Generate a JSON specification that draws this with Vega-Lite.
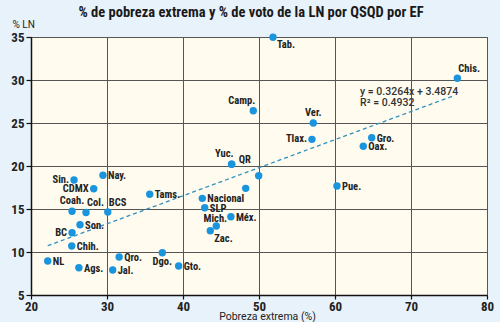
{
  "$schema": "https://vega.github.io/schema/vega-lite/v6.json",
  "width": 456,
  "height": 258,
  "autosize": {"type": "none"},
  "padding": {"left": 31, "top": 37, "right": 13, "bottom": 27},
  "background": "#e8f2fb",
  "title": {
    "text": "% de pobreza extrema y % de voto de la LN por QSQD por EF",
    "font": "Roboto Condensed, Roboto, sans-serif",
    "fontSize": 14.5,
    "fontWeight": "bold",
    "color": "#1a1a1a",
    "anchor": "middle",
    "dx": -8,
    "dy": 3,
    "offset": 2
  },
  "datasets": {
    "pts": [
      {"e": "NL", "x": 22.2, "y": 8.95},
      {"e": "Ags.", "x": 26.3, "y": 8.17},
      {"e": "Jal.", "x": 30.75, "y": 7.9},
      {"e": "Qro.", "x": 31.6, "y": 9.42},
      {"e": "Chih.", "x": 25.36, "y": 10.7},
      {"e": "BC", "x": 25.4, "y": 12.24},
      {"e": "Son.", "x": 26.45, "y": 13.17},
      {"e": "Coah.", "x": 25.4, "y": 14.73},
      {"e": "Col.", "x": 27.24, "y": 14.6},
      {"e": "BCS", "x": 30.1, "y": 14.65},
      {"e": "CDMX", "x": 28.25, "y": 17.36},
      {"e": "Sin.", "x": 25.66, "y": 18.37},
      {"e": "Nay.", "x": 29.47, "y": 18.92},
      {"e": "Tams.", "x": 35.62, "y": 16.71},
      {"e": "Dgo.", "x": 37.28, "y": 9.92},
      {"e": "Gto.", "x": 39.43, "y": 8.37},
      {"e": "Nacional", "x": 42.54, "y": 16.24},
      {"e": "SLP", "x": 42.86, "y": 15.15},
      {"e": "Méx.", "x": 46.3, "y": 14.1},
      {"e": "Mich.", "x": 44.38, "y": 13.02},
      {"e": "Zac.", "x": 43.59, "y": 12.48},
      {"e": "Hgo.", "x": 48.25, "y": 17.4},
      {"e": "Mor.", "x": 49.96, "y": 18.87},
      {"e": "Yuc.", "x": 46.4, "y": 20.2},
      {"e": "QR", "x": 46.4, "y": 20.2},
      {"e": "Tlax.", "x": 56.97, "y": 23.1},
      {"e": "Tab.", "x": 51.84, "y": 34.97},
      {"e": "Chis.", "x": 76.1, "y": 30.2},
      {"e": "Camp.", "x": 49.25, "y": 26.43},
      {"e": "Ver.", "x": 57.14, "y": 25.0},
      {"e": "Gro.", "x": 64.83, "y": 23.29},
      {"e": "Oax.", "x": 63.72, "y": 22.29},
      {"e": "Pue.", "x": 60.26, "y": 17.67}
    ]
  },
  "config": {
    "view": {"fill": "#fffcef", "stroke": "#555555", "strokeWidth": 1},
    "axis": {
      "gridColor": "#555555",
      "gridWidth": 1,
      "gridOpacity": 1,
      "domainColor": "#111111",
      "domainWidth": 1.5,
      "tickColor": "#111111",
      "tickWidth": 1.2,
      "labelFont": "Roboto Condensed, DejaVu Sans Condensed, sans-serif",
      "labelFontSize": 13,
      "labelFontWeight": "bold",
      "labelColor": "#222222",
      "titleFont": "Roboto, sans-serif",
      "titleFontWeight": "normal",
      "titleFontSize": 10.5,
      "titleColor": "#222222"
    }
  },
  "encoding": {
    "x": {
      "field": "x", "type": "quantitative",
      "scale": {"domain": [20, 80], "nice": false, "zero": false},
      "axis": {
        "values": [20, 30, 40, 50, 60, 70, 80],
        "title": "Pobreza extrema (%)",
        "tickSize": 4,
        "labelPadding": 1,
        "labelFlush": false,
        "titleX": 236,
        "titleY": 21,
        "titleBaseline": "middle",
        "titleAlign": "center"
      }
    },
    "y": {
      "field": "y", "type": "quantitative",
      "scale": {"domain": [5, 35], "nice": false, "zero": false},
      "axis": {
        "values": [5, 10, 15, 20, 25, 30, 35],
        "title": "% LN",
        "titleAngle": 0,
        "titleX": -19,
        "titleY": -13,
        "titleAlign": "left",
        "titleBaseline": "middle",
        "titleFontSize": 10,
        "tickSize": 5,
        "labelPadding": 2,
        "labelFlush": false
      }
    }
  },
  "layer": [
    {
      "data": {"values": [{"x": 22.2, "y": 10.73}, {"x": 75.6, "y": 28.16}]},
      "mark": {"type": "line", "color": "#2f8fc0", "strokeWidth": 1.3, "strokeDash": [4, 3]}
    },
    {
      "data": {"name": "pts"},
      "mark": {"type": "circle", "size": 55, "color": "#1b94de", "opacity": 1}
    },
    {
      "data": {"name": "pts"},
      "transform": [{"filter": {"field": "e", "oneOf": ["NL", "Ags.", "Jal.", "Qro.", "Chih.", "Son.", "Nay.", "Tams.", "Gto.", "Nacional", "SLP", "Méx.", "Gro.", "Oax.", "Pue."]}}],
      "mark": {"type": "text", "align": "left", "baseline": "middle", "dx": 5, "dy": 1, "font": "Roboto Condensed, DejaVu Sans Condensed, sans-serif", "fontSize": 10.5, "fontWeight": "bold", "color": "#222222"},
      "encoding": {"text": {"field": "e"}}
    },
    {
      "data": {"name": "pts"},
      "transform": [{"filter": {"field": "e", "oneOf": ["QR"]}}],
      "mark": {"type": "text", "align": "left", "baseline": "middle", "dx": 7, "dy": -4, "font": "Roboto Condensed, DejaVu Sans Condensed, sans-serif", "fontSize": 10.5, "fontWeight": "bold", "color": "#222222"},
      "encoding": {"text": {"field": "e"}}
    },
    {
      "data": {"name": "pts"},
      "transform": [{"filter": {"field": "e", "oneOf": ["BC", "CDMX", "Sin.", "Tlax."]}}],
      "mark": {"type": "text", "align": "right", "baseline": "middle", "dx": -5, "dy": 0, "font": "Roboto Condensed, DejaVu Sans Condensed, sans-serif", "fontSize": 10.5, "fontWeight": "bold", "color": "#222222"},
      "encoding": {"text": {"field": "e"}}
    },
    {
      "data": {"name": "pts"},
      "transform": [{"filter": {"field": "e", "oneOf": ["Coah.", "Ver."]}}],
      "mark": {"type": "text", "align": "center", "baseline": "middle", "dx": 0, "dy": -10, "font": "Roboto Condensed, DejaVu Sans Condensed, sans-serif", "fontSize": 10.5, "fontWeight": "bold", "color": "#222222"},
      "encoding": {"text": {"field": "e"}}
    },
    {
      "data": {"name": "pts"},
      "transform": [{"filter": {"field": "e", "oneOf": ["Mich."]}}],
      "mark": {"type": "text", "align": "center", "baseline": "middle", "dx": -1, "dy": -7, "font": "Roboto Condensed, DejaVu Sans Condensed, sans-serif", "fontSize": 10.5, "fontWeight": "bold", "color": "#222222"},
      "encoding": {"text": {"field": "e"}}
    },
    {
      "data": {"name": "pts"},
      "transform": [{"filter": {"field": "e", "oneOf": ["Col.", "BCS", "Chis."]}}],
      "mark": {"type": "text", "align": "left", "baseline": "middle", "dx": 1, "dy": -9, "font": "Roboto Condensed, DejaVu Sans Condensed, sans-serif", "fontSize": 10.5, "fontWeight": "bold", "color": "#222222"},
      "encoding": {"text": {"field": "e"}}
    },
    {
      "data": {"name": "pts"},
      "transform": [{"filter": {"field": "e", "oneOf": ["Yuc.", "Camp."]}}],
      "mark": {"type": "text", "align": "right", "baseline": "middle", "dx": 2, "dy": -10, "font": "Roboto Condensed, DejaVu Sans Condensed, sans-serif", "fontSize": 10.5, "fontWeight": "bold", "color": "#222222"},
      "encoding": {"text": {"field": "e"}}
    },
    {
      "data": {"name": "pts"},
      "transform": [{"filter": {"field": "e", "oneOf": ["Dgo."]}}],
      "mark": {"type": "text", "align": "center", "baseline": "middle", "dx": 0, "dy": 9, "font": "Roboto Condensed, DejaVu Sans Condensed, sans-serif", "fontSize": 10.5, "fontWeight": "bold", "color": "#222222"},
      "encoding": {"text": {"field": "e"}}
    },
    {
      "data": {"name": "pts"},
      "transform": [{"filter": {"field": "e", "oneOf": ["Tab.", "Zac."]}}],
      "mark": {"type": "text", "align": "left", "baseline": "middle", "dx": 4, "dy": 8, "font": "Roboto Condensed, DejaVu Sans Condensed, sans-serif", "fontSize": 10.5, "fontWeight": "bold", "color": "#222222"},
      "encoding": {"text": {"field": "e"}}
    },
    {
      "data": {"values": [{"x": 63.3, "y": 28.6, "t": "y = 0.3264x + 3.4874"}, {"x": 63.3, "y": 27.3, "t": "R² = 0.4932"}]},
      "mark": {"type": "text", "align": "left", "baseline": "middle", "font": "Roboto, sans-serif", "fontSize": 10.5, "fontWeight": 500, "color": "#333333"},
      "encoding": {"text": {"field": "t"}}
    }
  ]
}
